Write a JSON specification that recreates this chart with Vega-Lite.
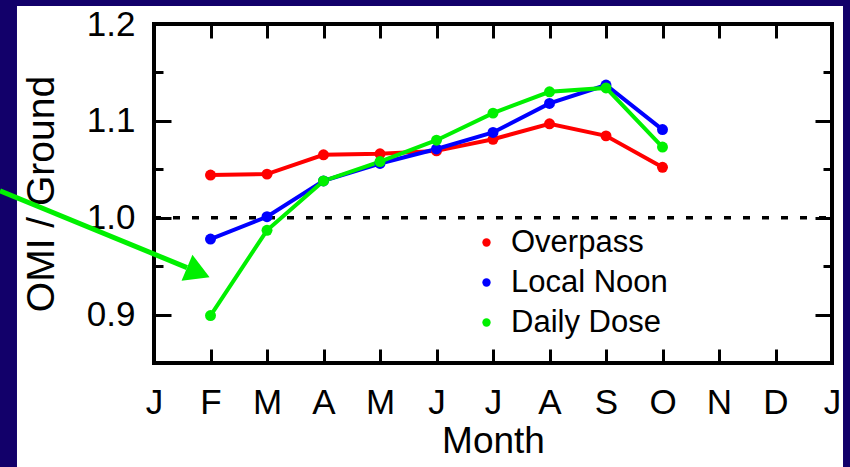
{
  "$schema": "https://vega.github.io/schema/vega-lite/v6.json",
  "width": 678,
  "height": 339,
  "autosize": {"type": "none"},
  "padding": {"left": 154, "top": 24, "right": 18, "bottom": 104},
  "background": "white",
  "config": {
    "view": {"stroke": "black", "strokeWidth": 4, "fill": null},
    "font": "Liberation Sans",
    "axis": {
      "domain": false,
      "grid": false,
      "tickColor": "black",
      "tickWidth": 3,
      "labelColor": "black",
      "titleColor": "black",
      "labelFont": "Liberation Sans",
      "titleFont": "Liberation Sans",
      "labelFontSize": 35,
      "titleFontSize": 37,
      "titleFontWeight": "normal"
    }
  },
  "datasets": {
    "series": [
      {"month": 1, "value": 1.044, "series": "Overpass"},
      {"month": 2, "value": 1.045, "series": "Overpass"},
      {"month": 3, "value": 1.065, "series": "Overpass"},
      {"month": 4, "value": 1.066, "series": "Overpass"},
      {"month": 5, "value": 1.069, "series": "Overpass"},
      {"month": 6, "value": 1.081, "series": "Overpass"},
      {"month": 7, "value": 1.097, "series": "Overpass"},
      {"month": 8, "value": 1.0845, "series": "Overpass"},
      {"month": 9, "value": 1.052, "series": "Overpass"},
      {"month": 1, "value": 0.978, "series": "Local Noon"},
      {"month": 2, "value": 1.001, "series": "Local Noon"},
      {"month": 3, "value": 1.038, "series": "Local Noon"},
      {"month": 4, "value": 1.056, "series": "Local Noon"},
      {"month": 5, "value": 1.071, "series": "Local Noon"},
      {"month": 6, "value": 1.088, "series": "Local Noon"},
      {"month": 7, "value": 1.118, "series": "Local Noon"},
      {"month": 8, "value": 1.137, "series": "Local Noon"},
      {"month": 9, "value": 1.091, "series": "Local Noon"},
      {"month": 1, "value": 0.899, "series": "Daily Dose"},
      {"month": 2, "value": 0.987, "series": "Daily Dose"},
      {"month": 3, "value": 1.038, "series": "Daily Dose"},
      {"month": 4, "value": 1.058, "series": "Daily Dose"},
      {"month": 5, "value": 1.080, "series": "Daily Dose"},
      {"month": 6, "value": 1.108, "series": "Daily Dose"},
      {"month": 7, "value": 1.130, "series": "Daily Dose"},
      {"month": 8, "value": 1.134, "series": "Daily Dose"},
      {"month": 9, "value": 1.073, "series": "Daily Dose"}
    ]
  },
  "resolve": {"axis": {"x": "independent", "y": "independent"}},
  "layer": [
    {
      "data": {"values": [
        {"x1": -2.9, "x2": -2.425, "y1": 0.70, "y2": 1.27},
        {"x1": -2.9, "x2": 12.5, "y1": 1.2186, "y2": 1.27},
        {"x1": 12.195, "x2": 12.5, "y1": 0.70, "y2": 1.27}
      ]},
      "mark": {"type": "rect", "fill": "#12006a", "clip": false},
      "encoding": {
        "x": {"field": "x1", "type": "quantitative", "scale": {"domain": [0, 12], "nice": false, "zero": false}, "axis": null},
        "x2": {"field": "x2"},
        "y": {"field": "y1", "type": "quantitative", "scale": {"domain": [0.85, 1.2], "nice": false, "zero": false}, "axis": null},
        "y2": {"field": "y2"}
      }
    },
    {
      "data": {"values": [{"x": 0, "x2": 12, "y": 1.0}]},
      "mark": {"type": "rule", "color": "black", "strokeWidth": 3.5, "strokeDash": [7, 12]},
      "encoding": {
        "x": {"field": "x", "type": "quantitative", "axis": {
          "orient": "bottom", "values": [0,1,2,3,4,5,6,7,8,9,10,11,12],
          "labelExpr": "['J','F','M','A','M','J','J','A','S','O','N','D','J'][datum.value]",
          "tickSize": -14, "labelPadding": 36, "labelFlush": false, "labelOverlap": false,
          "title": "Month", "titlePadding": 3
        }},
        "x2": {"field": "x2"},
        "y": {"field": "y", "type": "quantitative", "axis": {
          "orient": "left", "values": [0.9, 1.0, 1.1, 1.2], "format": ".1f",
          "tickSize": -17, "labelPadding": 36, "labelFlush": false, "labelOverlap": false,
          "title": "OMI / Ground", "titlePadding": 25, "titleFontSize": 39
        }}
      }
    },
    {
      "data": {"name": "series"},
      "transform": [{"filter": "datum.series == 'Overpass'"}],
      "mark": {"type": "line", "strokeWidth": 4, "color": "#ff0000"},
      "encoding": {
        "x": {"field": "month", "type": "quantitative", "axis": {
          "orient": "top", "values": [0,1,2,3,4,5,6,7,8,9,10,11,12], "labels": false, "tickSize": -14, "title": null
        }},
        "y": {"field": "value", "type": "quantitative", "axis": {
          "orient": "right", "values": [0.9, 1.0, 1.1, 1.2], "labels": false, "tickSize": -17, "title": null
        }}
      }
    },
    {
      "data": {"name": "series"},
      "transform": [{"filter": "datum.series == 'Local Noon'"}],
      "mark": {"type": "line", "strokeWidth": 4, "color": "#0000ff"},
      "encoding": {
        "x": {"field": "month", "type": "quantitative", "axis": null},
        "y": {"field": "value", "type": "quantitative", "axis": null}
      }
    },
    {
      "data": {"name": "series"},
      "transform": [{"filter": "datum.series == 'Daily Dose'"}],
      "mark": {"type": "line", "strokeWidth": 4, "color": "#00f000"},
      "encoding": {
        "x": {"field": "month", "type": "quantitative", "axis": null},
        "y": {"field": "value", "type": "quantitative", "axis": null}
      }
    },
    {
      "data": {"name": "series"},
      "mark": {"type": "point", "filled": true, "size": 120, "opacity": 1},
      "encoding": {
        "x": {"field": "month", "type": "quantitative", "axis": null},
        "y": {"field": "value", "type": "quantitative", "axis": {
          "orient": "left", "values": [0.95, 1.05, 1.15], "labels": false, "tickSize": -9, "title": null
        }},
        "color": {"field": "series", "type": "nominal",
          "scale": {"domain": ["Overpass", "Local Noon", "Daily Dose"], "range": ["#ff0000", "#0000ff", "#00f000"]},
          "legend": {"title": null, "orient": "none", "legendX": 317, "legendY": 203,
            "symbolType": "circle", "symbolSize": 70, "symbolStrokeWidth": 0,
            "labelFontSize": 31, "labelFont": "Liberation Sans", "labelColor": "black",
            "rowPadding": 8, "padding": 0, "labelOffset": 9}}
      }
    },
    {
      "data": {"values": [{"x": 0, "y": 0.85}]},
      "mark": {"type": "point", "opacity": 0},
      "encoding": {
        "x": {"field": "x", "type": "quantitative", "axis": null},
        "y": {"field": "y", "type": "quantitative", "axis": {
          "orient": "right", "values": [0.95, 1.05, 1.15], "labels": false, "tickSize": -9, "title": null
        }}
      }
    },
    {
      "data": {"values": [{"x": -2.726, "y": 1.0278, "x2": 0.584, "y2": 0.9485}]},
      "mark": {"type": "rule", "color": "#00f000", "strokeWidth": 5, "clip": false},
      "encoding": {
        "x": {"field": "x", "type": "quantitative", "axis": null},
        "x2": {"field": "x2"},
        "y": {"field": "y", "type": "quantitative", "axis": null},
        "y2": {"field": "y2"}
      }
    },
    {
      "data": {"values": [{"x": 0.784, "y": 0.9435}]},
      "mark": {"type": "point", "shape": "triangle-right", "filled": true, "size": 800, "angle": 22.6, "color": "#00f000", "opacity": 1},
      "encoding": {
        "x": {"field": "x", "type": "quantitative", "axis": null},
        "y": {"field": "y", "type": "quantitative", "axis": null}
      }
    }
  ]
}
